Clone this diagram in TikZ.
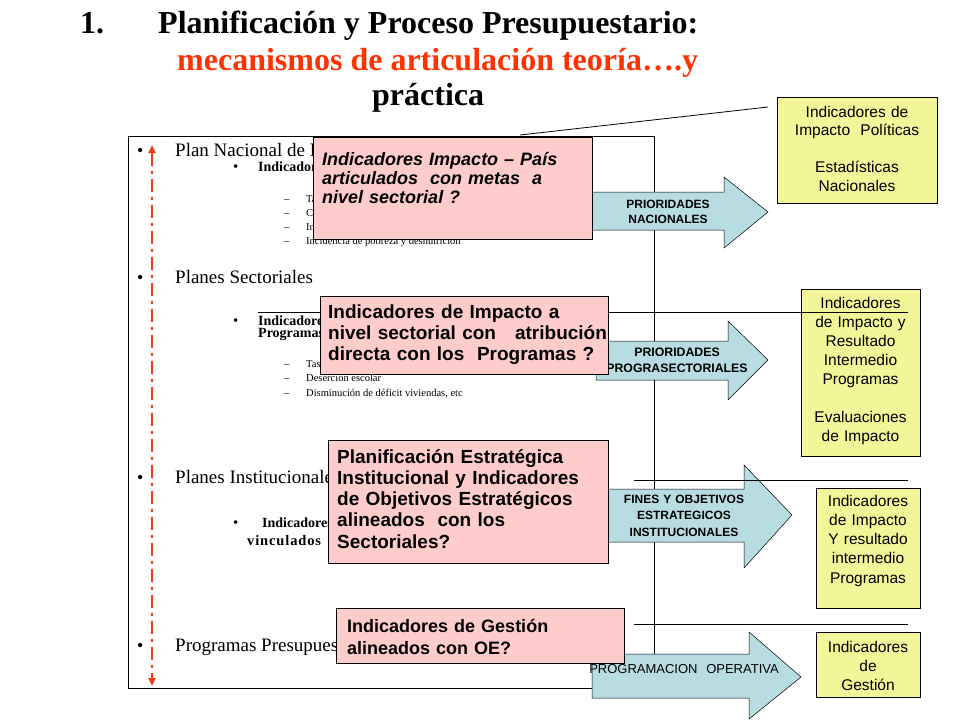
\documentclass[tikz,border=0pt]{standalone}
\usepackage{fontspec}
\setmainfont{Liberation Serif}
\newfontfamily\arialfont{Liberation Sans}
\usetikzlibrary{arrows.meta}
\definecolor{cPink}{RGB}{255,204,204}
\definecolor{cBlue}{RGB}{183,221,226}
\definecolor{cYellow}{RGB}{242,246,152}
\definecolor{cTitleRed}{RGB}{255,51,0}
\definecolor{cDashRed}{RGB}{240,60,20}
\tikzset{
  pinkrect/.style={draw=black, line width=0.8pt, fill=cPink},
  yelrect/.style={draw=black, line width=0.8pt, fill=cYellow},
  bluearrow/.style={draw=black, line width=0.5pt, fill=cBlue},
  plainline/.style={draw=black, line width=0.8pt},
  titletxt/.style={anchor=base west, inner sep=0pt, font=\bfseries\fontsize{32}{36}\selectfont},
  lvlone/.style={anchor=base west, inner sep=0pt, font=\fontsize{19}{22}\selectfont},
  lvltwo/.style={anchor=base west, inner sep=0pt, font=\bfseries\fontsize{14}{13}\selectfont},
  lvlthree/.style={anchor=base west, inner sep=0pt, font=\fontsize{10.5}{13}\selectfont},
  bul/.style={anchor=base west, inner sep=0pt, font=\fontsize{18}{18}\selectfont},
  bulsmall/.style={anchor=base west, inner sep=0pt, font=\fontsize{15}{15}\selectfont},
  ptxt/.style={anchor=base west, inner sep=0pt, text width=285pt, align=left},
  ytxt/.style={anchor=base, inner sep=0pt, text width=#1, align=center, font=\arialfont\fontsize{15.5}{19}\selectfont},
  atxt/.style={anchor=base, inner sep=0pt, text width=200pt, align=center},
}
\begin{document}
\begin{tikzpicture}[x=1pt,y=-1pt]
\useasboundingbox[fill=white] (0,0) rectangle (960,720);

% ---------- title ----------
\node[titletxt] (tnum) at (80,33) {1.};
\node[titletxt] (tl1) at (158,33) {Planificación y Proceso Presupuestario:};
\node[titletxt, text=cTitleRed] (tl2) at (177,70) {mecanismos de articulación teoría….y};
\node[titletxt] (tl3) at (372,105) {práctica};

% ---------- main left box ----------
\node[draw=black, line width=0.8pt, minimum width=526pt, minimum height=552pt, inner sep=0pt, anchor=north west] (leftbox) at (128,136) {};

% level 1
\node[bul] (b1) at (137,156) {•};
\node[lvlone] (l1a) at (175,156) {Plan Nacional de De};
\node[bul] (b2) at (137,283) {•};
\node[lvlone] (l1b) at (175,283) {Planes Sectoriales};
\node[bul] (b3) at (137,483) {•};
\node[lvlone] (l1c) at (175,483) {Planes Institucionales};
\node[bul] (b4) at (137,651) {•};
\node[lvlone] (l1d) at (175,651) {Programas Presupuest};

% level 2
\node[bulsmall] (b21) at (233,171) {•};
\node[lvltwo] (l2a) at (258,171) {Indicadores};
\node[bulsmall] (b22) at (233,325) {•};
\node[lvltwo] (l2b) at (258,325) {Indicadores};
\node[lvltwo] (l2b2) at (258,337) {Programas};
\node[bulsmall] (b23) at (233,527) {•};
\node[lvltwo] (l2c) at (262,527) {Indicadores};
\node[lvltwo, font=\bfseries\fontsize{14.5}{13}\selectfont\addfontfeatures{LetterSpace=6}] (l2c2) at (247,545) {vinculados};

% level 3
\node[lvlthree] (d1) at (284,202.5) {–};
\node[lvlthree] (e1) at (306,202.5) {Tasa};
\node[lvlthree] (d2) at (284,216.3) {–};
\node[lvlthree] (e2) at (306,216.3) {Cobertura};
\node[lvlthree] (d3) at (284,230.2) {–};
\node[lvlthree] (e3) at (306,230.2) {Incidencia};
\node[lvlthree] (d4) at (284,244) {–};
\node[lvlthree] (e4) at (306,244) {Incidencia de pobreza y desnutrición};
\node[lvlthree] (d5) at (284,367) {–};
\node[lvlthree] (e5) at (306,367) {Tasa};
\node[lvlthree] (d6) at (284,381.5) {–};
\node[lvlthree] (e6) at (306,381.5) {Deserción escolar};
\node[lvlthree] (d7) at (284,396) {–};
\node[lvlthree] (e7) at (306,396) {Disminución de déficit viviendas, etc};

% red dashed double arrow
\coordinate (rtop) at (152,145);
\coordinate (rbot) at (152,686);
\draw[cDashRed, line width=2.6pt, dash pattern=on 13pt off 5pt on 3pt off 5pt,
  {Triangle[width=7pt,length=8pt]}-{Triangle[width=7pt,length=8pt]}] (rtop) -- (rbot);

% ---------- yellow boxes ----------
\node[yelrect, minimum width=160pt, minimum height=106pt, inner sep=0pt, anchor=north west] (y1) at (777,97) {};
\node[ytxt=160pt, font=\arialfont\fontsize{15.5}{18.5}\selectfont] (y1t) at (857,117) {Indicadores de\\Impacto~ Políticas\\[18.5pt]Estadísticas\\Nacionales};
\node[yelrect, minimum width=119pt, minimum height=167pt, inner sep=0pt, anchor=north west] (y2) at (801,289) {};
\node[ytxt=119pt] (y2t) at (860.5,308) {Indicadores\\de Impacto y\\Resultado\\Intermedio\\Programas\\[19pt]Evaluaciones\\de Impacto};
\node[yelrect, minimum width=104pt, minimum height=120pt, inner sep=0pt, anchor=north west] (y3) at (816,488) {};
\node[ytxt=104pt, font=\arialfont\fontsize{15.5}{19.3}\selectfont] (y3t) at (868,506) {Indicadores\\de Impacto\\Y resultado\\intermedio\\Programas};
\node[yelrect, minimum width=104pt, minimum height=65pt, inner sep=0pt, anchor=north west] (y4) at (816,632) {};
\node[ytxt=104pt] (y4t) at (868,652) {Indicadores\\de\\Gestión};

% ---------- blue arrows ----------
\draw[bluearrow] (580,192) -- (724,192) -- (724,177) -- (768,212) -- (724,248) -- (724,230) -- (580,230) -- cycle;
\node[atxt, font=\arialfont\bfseries\fontsize{12}{15}\selectfont] (a1t) at (668,208) {PRIORIDADES\\NACIONALES};

\draw[bluearrow] (596,341) -- (728,341) -- (728,321) -- (768,360) -- (728,400) -- (728,380) -- (596,380) -- cycle;
\node[atxt, font=\arialfont\bfseries\fontsize{12.3}{16}\selectfont] (a2t) at (677,356) {PRIORIDADES\\PROGRASECTORIALES};

\draw[bluearrow] (596,489) -- (744,489) -- (744,465) -- (792,515) -- (744,568) -- (744,542) -- (596,542) -- cycle;
\node[atxt, font=\arialfont\bfseries\fontsize{12}{16.5}\selectfont] (a3t) at (684,503) {FINES Y OBJETIVOS\\ESTRATEGICOS\\INSTITUCIONALES};

\draw[bluearrow] (592,654) -- (749,654) -- (749,632) -- (801,677) -- (749,719) -- (749,698) -- (592,698) -- cycle;
\node[atxt, font=\arialfont\fontsize{13}{15}\selectfont] (a4t) at (684,673) {PROGRAMACION~ OPERATIVA};

% ---------- lines ----------
\coordinate (ln1a) at (258,312); \coordinate (ln1b) at (908,312);
\coordinate (ln2a) at (634,480); \coordinate (ln2b) at (908,480);
\coordinate (ln3a) at (634,624); \coordinate (ln3b) at (908,624);
\coordinate (dga) at (520,135); \coordinate (dgb) at (768,107);
\draw[plainline] (ln1a) -- (ln1b);
\draw[plainline] (ln2a) -- (ln2b);
\draw[plainline] (ln3a) -- (ln3b);
\draw[plainline] (dga) -- (dgb);

% ---------- pink boxes ----------
\node[pinkrect, minimum width=279pt, minimum height=102pt, inner sep=0pt, anchor=north west] (p1) at (313,137) {};
\node[ptxt, font=\arialfont\bfseries\itshape\fontsize{18}{19}\selectfont] (p1t) at (322,165) {Indicadores Impacto – País\\articulados~ con metas~ a\\nivel sectorial ?};

\node[pinkrect, minimum width=288pt, minimum height=78pt, inner sep=0pt, anchor=north west] (p2) at (320,296) {};
\node[ptxt, font=\arialfont\bfseries\fontsize{19}{21}\selectfont] (p2t) at (328,318) {Indicadores de Impacto a\\nivel sectorial con~~ atribución\\directa con los~ Programas ?};

\node[pinkrect, minimum width=280pt, minimum height=123pt, inner sep=0pt, anchor=north west] (p3) at (328,440) {};
\node[ptxt, font=\arialfont\bfseries\fontsize{19}{21.3}\selectfont] (p3t) at (337,463) {Planificación Estratégica\\Institucional y Indicadores\\de Objetivos Estratégicos\\alineados~ con los\\Sectoriales?};

\node[pinkrect, minimum width=288pt, minimum height=55pt, inner sep=0pt, anchor=north west] (p4) at (336,608) {};
\node[ptxt, font=\arialfont\bfseries\fontsize{18}{22}\selectfont] (p4t) at (347,632) {Indicadores de Gestión\\alineados con OE?};
\end{tikzpicture}
\end{document}
